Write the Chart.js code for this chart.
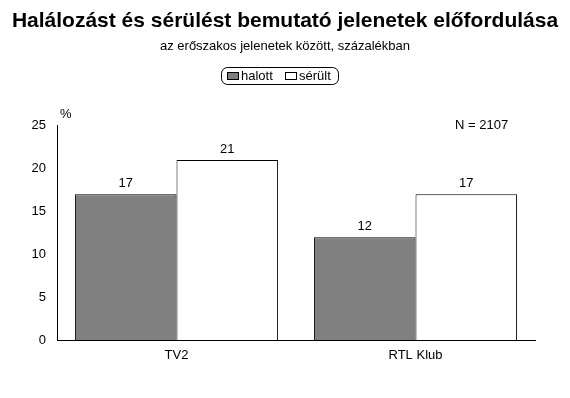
<!DOCTYPE html>
<html>
<head>
<meta charset="utf-8">
<script src="https://cdn.jsdelivr.net/npm/chart.js@4"></script>
<style>
  body { margin: 0; background: #fff; }
  #wrap { width: 570px; height: 398px; }
</style>
</head>
<body>
<div id="wrap"><canvas id="myChart" width="570" height="398"></canvas></div>
<script>
var categories = ['TV2', 'RTL Klub'];
var halott = [17, 12];
var serult = [21, 17];
var seriesNames = ['halott', 'sérült'];
var yTicks = [0, 5, 10, 15, 20, 25];

var FONT = '"Liberation Sans", Arial, sans-serif';

// value labels, "%" unit, N note and the boxed legend
var extras = {
    id: 'extras',
    afterDatasetsDraw: function (chart) {
        var ctx = chart.ctx;
        ctx.save();
        ctx.fillStyle = '#000';
        ctx.font = '13px ' + FONT;
        ctx.textAlign = 'center';
        ctx.textBaseline = 'bottom';
        chart.data.datasets.forEach(function (ds, i) {
            chart.getDatasetMeta(i).data.forEach(function (bar, j) {
                ctx.fillText(ds.data[j], bar.x, bar.y - 4);
            });
        });

        var area = chart.chartArea;
        ctx.textAlign = 'left';
        ctx.textBaseline = 'middle';
        ctx.fillText('%', area.left + 3, area.top - 11);
        ctx.fillText('N = 2107', 455, area.top);

        // legend
        var lx = 221, ly = 67, lw = 117, lh = 17;
        ctx.strokeStyle = '#000';
        ctx.lineWidth = 1;
        ctx.beginPath();
        ctx.roundRect(lx + 0.5, ly + 0.5, lw, lh, 6);
        ctx.stroke();
        var items = [
            { x: 227, fill: '#808080', text: seriesNames[0] },
            { x: 285, fill: '#ffffff', text: seriesNames[1] }
        ];
        items.forEach(function (it) {
            ctx.fillStyle = it.fill;
            ctx.fillRect(it.x + 0.5, 72.5, 11, 7);
            ctx.strokeRect(it.x + 0.5, 72.5, 11, 7);
            ctx.fillStyle = '#000';
            ctx.fillText(it.text, it.x + 14, 76);
        });
        ctx.restore();
    }
};

var ctx = document.getElementById('myChart').getContext('2d');
var myChart = new Chart(ctx, {
    type: 'bar',
    data: {
        labels: categories,
        datasets: [
            {
                label: seriesNames[0],
                data: halott,
                backgroundColor: '#808080',
                borderColor: '#000',
                borderWidth: 1
            },
            {
                label: seriesNames[1],
                data: serult,
                backgroundColor: '#ffffff',
                borderColor: '#000',
                borderWidth: 1
            }
        ]
    },
    options: {
        responsive: false,
        animation: false,
        categoryPercentage: 0.85,
        barPercentage: 1,
        layout: {
            padding: 0
        },
        plugins: {
            legend: { display: false },
            tooltip: { enabled: false },
            title: {
                display: true,
                text: 'Halálozást és sérülést bemutató jelenetek előfordulása',
                color: '#000',
                font: { family: FONT, size: 21, weight: 'bold' },
                padding: { top: 9, bottom: 4 }
            },
            subtitle: {
                display: true,
                text: 'az erőszakos jelenetek között, százalékban',
                color: '#000',
                font: { family: FONT, size: 13 },
                padding: { top: 0, bottom: 72 }
            }
        },
        scales: {
            y: {
                min: 0,
                max: 25,
                afterBuildTicks: function (axis) {
                    axis.ticks = yTicks.map(function (v) { return { value: v }; });
                },
                afterFit: function (axis) { axis.width = 57; },
                grid: { display: false, drawTicks: false },
                border: { display: true, color: '#000', width: 1 },
                ticks: {
                    color: '#000',
                    padding: 11,
                    font: { family: FONT, size: 13 }
                }
            },
            // empty right margin so the titles stay centred on the page
            yRight: {
                position: 'right',
                afterFit: function (axis) { axis.width = 35; },
                grid: { display: false, drawTicks: false },
                border: { display: false },
                ticks: { display: false }
            },
            x: {
                afterFit: function (axis) { axis.height = 58; },
                grid: { display: false, drawTicks: false },
                border: { display: true, color: '#000', width: 1 },
                ticks: {
                    color: '#000',
                    padding: 8,
                    font: { family: FONT, size: 13 }
                }
            }
        }
    },
    plugins: [extras]
});
</script>
</body>
</html>
